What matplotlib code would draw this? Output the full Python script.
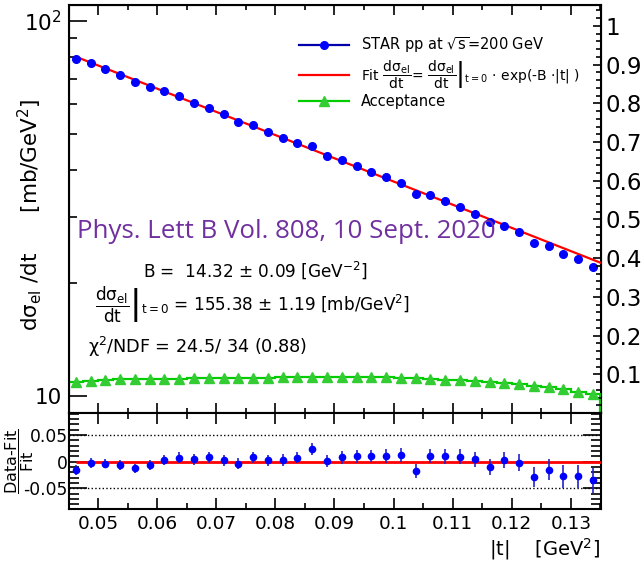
import numpy as np
import matplotlib.pyplot as plt
from matplotlib.lines import Line2D
from matplotlib.ticker import MultipleLocator, LogLocator, NullFormatter, FuncFormatter

plt.rcParams['font.family'] = 'DejaVu Sans'
plt.rcParams['mathtext.fontset'] = 'dejavusans'
plt.rcParams['mathtext.default'] = 'regular'
plt.rcParams['axes.unicode_minus'] = False

# |t| bin centres [GeV^2]
t = [0.04625, 0.04875, 0.05125, 0.05375, 0.05625, 0.05875, 0.06125, 0.06375,
     0.06625, 0.06875, 0.07125, 0.07375, 0.07625, 0.07875, 0.08125, 0.08375,
     0.08625, 0.08875, 0.09125, 0.09375, 0.09625, 0.09875, 0.10125, 0.10375,
     0.10625, 0.10875, 0.11125, 0.11375, 0.11625, 0.11875, 0.12125, 0.12375,
     0.12625, 0.12875, 0.13125, 0.13375]

# dsigma/dt [mb/GeV^2]
dsdt = [78.9, 77.1, 74.3, 71.5, 68.5, 66.5, 64.8, 62.8,
        60.4, 58.5, 56.2, 53.8, 52.6, 50.4, 48.7, 47.2,
        46.2, 43.6, 42.4, 41.0, 39.6, 38.2, 36.9, 34.6,
        34.3, 33.1, 31.9, 30.6, 29.1, 28.4, 27.3, 25.6,
        25.1, 23.9, 23.1, 22.1]

# (data-fit)/fit
resid = [-0.016, -0.003, -0.004, -0.006, -0.013, -0.007, 0.003, 0.0075,
         0.004, 0.008, 0.0025, -0.004, 0.008, 0.0025, 0.0025, 0.0075,
         0.023, 0.001, 0.008, 0.010, 0.0105, 0.0105, 0.0125, -0.0175,
         0.010, 0.010, 0.009, 0.0045, -0.010, 0.0025, -0.0025, -0.029,
         -0.015, -0.028, -0.028, -0.0355]
resid_err = [0.009, 0.009, 0.009, 0.009, 0.009, 0.009, 0.010, 0.010,
             0.010, 0.010, 0.010, 0.010, 0.010, 0.010, 0.011, 0.011,
             0.011, 0.011, 0.012, 0.012, 0.012, 0.013, 0.013, 0.013,
             0.013, 0.014, 0.014, 0.014, 0.015, 0.015, 0.016, 0.018,
             0.019, 0.021, 0.022, 0.024]

# acceptance (right axis)
acceptance = [0.079, 0.082, 0.085, 0.087, 0.088, 0.088, 0.089, 0.089,
              0.090, 0.090, 0.090, 0.091, 0.091, 0.091, 0.092, 0.092,
              0.092, 0.092, 0.092, 0.092, 0.092, 0.092, 0.090, 0.090,
              0.088, 0.086, 0.084, 0.082, 0.080, 0.077, 0.074, 0.070,
              0.066, 0.061, 0.055, 0.050]

# fit line end points
fit_t = [0.04625, 0.1351]
fit_val = [80.1, 22.6]

x_range = (0.0451, 0.1351)
edges = [t[0] - 0.00125] + [v + 0.00125 for v in t]

green = '#00cc00'
fig = plt.figure(figsize=(6.41, 5.64), dpi=100)

# ---- top panel
ax = fig.add_axes([69/641, 1 - 413/564, 532/641, 408/564])
ax.set_yscale('log')
ax.set_xlim(*x_range)
ax.set_ylim(9.0, 110)
ax.plot(fit_t, fit_val, color='red', lw=1.6, zorder=3)
ax.plot(t, dsdt, 'o', color='blue', ms=5.5, zorder=4)

ax.set_yticks([10, 100], labels=['10', '$10^2$'])
ax.yaxis.set_minor_locator(LogLocator(base=10, subs=np.arange(2, 10)))
ax.yaxis.set_minor_formatter(NullFormatter())
ax.xaxis.set_major_locator(MultipleLocator(0.01))
ax.xaxis.set_minor_locator(MultipleLocator(0.005))
ax.tick_params(which='both', direction='in', top=True, bottom=True,
               left=True, right=False, labelbottom=False, width=1.2)
ax.tick_params(axis='y', which='major', length=13, labelsize=15.5, pad=5)
ax.tick_params(axis='y', which='minor', length=5.8)
ax.tick_params(axis='x', which='major', length=7.2)
ax.tick_params(axis='x', which='minor', length=3.6)
for s in ax.spines.values():
    s.set_linewidth(1.5)
ax.set_ylabel(r'd$\sigma_{el}$ /dt      [mb/GeV$^2$]', fontsize=15.5)
ax.yaxis.set_label_coords(-0.047, 0.485)

# acceptance axis
ax2 = ax.twinx()
ax2.set_ylim(0, 1.054)
ax2.stairs(acceptance, edges, color=green, lw=1.6)
ax2.plot(t, acceptance, '^', color='#33cc33', ms=7.5)
ax2.set_yticks(np.arange(0.1, 1.01, 0.1),
               labels=['0.1', '0.2', '0.3', '0.4', '0.5', '0.6', '0.7', '0.8', '0.9', '1'])
ax2.yaxis.set_minor_locator(MultipleLocator(0.02))
ax2.tick_params(axis='y', which='major', direction='in', length=5.8, width=1.2,
                labelsize=16.5, pad=3)
ax2.tick_params(axis='y', which='minor', direction='in', length=3.6, width=1.2)

handles = [Line2D([], [], color='#0000aa', lw=1.6, marker='o', mfc='blue', mec='blue', ms=5.5),
           Line2D([], [], color='red', lw=1.6),
           Line2D([], [], color=green, lw=1.6, marker='^', mfc='#33cc33', mec='#33cc33', ms=7.5)]
labels = [r'STAR pp at $\sqrt{s}$=200 GeV',
          r'Fit $\dfrac{d\sigma_{el}}{dt}$= $\left.\dfrac{d\sigma_{el}}{dt}\right|_{t=0}$ $\cdot$ exp(-B $\cdot$|t| )',
          'Acceptance']
leg = fig.legend(handles, labels, loc='upper left', bbox_to_anchor=(292/641, 1 - 28/564),
                 frameon=False, fontsize=10.5, handlelength=3.4, handletextpad=0.8,
                 labelspacing=0.2, borderpad=0)
leg.get_texts()[1].set_fontsize(10)

# annotations
fig.text(77/641, 1 - 232/564, 'Phys. Lett B Vol. 808, 10 Sept. 2020',
         color='#7030a0', fontsize=18.6, family='Open Sans', va='center')
fig.text(143/641, 1 - 270/564, r'B =  14.32 $\pm$ 0.09 [GeV$^{-2}$]',
         fontsize=12.2, va='center')
fig.text(95/641, 1 - 305/564,
         r'$\left.\dfrac{d\sigma_{el}}{dt}\right|_{t=0}$ = 155.38 $\pm$ 1.19 [mb/GeV$^2$]',
         fontsize=12.2, va='center')
fig.text(88/641, 1 - 347/564, r'$\chi^2$/NDF = 24.5/ 34 (0.88)',
         fontsize=12.7, va='center')

# ---- ratio panel
axb = fig.add_axes([69/641, 55/564, 532/641, 96/564])
axb.set_xlim(*x_range)
axb.set_ylim(-0.089, 0.091)
axb.axhline(0.05, ls=':', color='black', lw=1)
axb.axhline(-0.05, ls=':', color='black', lw=1)
axb.hlines(0, t[0], x_range[1], color='red', lw=2, zorder=3)
axb.errorbar(t, resid, yerr=resid_err, fmt='o', color='blue', ecolor='#2222cc',
             ms=4.5, elinewidth=1.2, capsize=0, zorder=4)
axb.set_yticks([-0.05, 0, 0.05], labels=['-0.05', '0', '0.05'])
axb.yaxis.set_minor_locator(MultipleLocator(0.01))
axb.xaxis.set_major_locator(MultipleLocator(0.01))
axb.xaxis.set_minor_locator(MultipleLocator(0.005))
axb.xaxis.set_major_formatter(FuncFormatter(lambda v, p: '%g' % round(v, 3)))
axb.tick_params(which='both', direction='in', top=True, right=True, width=1.2)
axb.tick_params(axis='y', which='major', length=13, labelsize=12.3, pad=1)
axb.tick_params(axis='y', which='minor', length=7)
axb.tick_params(axis='x', which='major', length=8, labelsize=13.3, pad=4)
axb.tick_params(axis='x', which='minor', length=4)
for s in axb.spines.values():
    s.set_linewidth(1.5)
axb.set_ylabel(r'$\dfrac{\text{Data-Fit}}{\text{Fit}}$', fontsize=11.5)
axb.yaxis.set_label_coords(-0.062, 0.5)

fig.text(600/641, 1 - 549/564, r'|t|    [GeV$^2$]', fontsize=14, ha='right', va='center')

fig.savefig('out.png', dpi=100)
